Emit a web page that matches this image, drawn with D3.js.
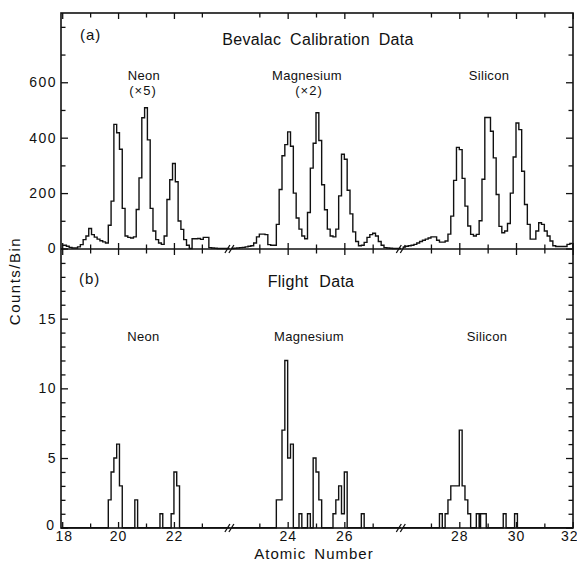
<!DOCTYPE html>
<html><head><meta charset="utf-8">
<script src="https://cdn.jsdelivr.net/npm/d3@7"></script>
<style>
body{margin:0;background:#fff}
svg{display:block}
text{font-family:"Liberation Sans",Arial,sans-serif;fill:#111}
</style></head>
<body><svg id="c" width="577" height="564"></svg>
<script>
// ---------- DATA ----------
// Panel (a) Bevalac calibration: counts per 0.1-charge bin
const binWidth = 0.1;
const calibBinStarts = [17.95, 22.0, 26.0]; // first bin edge of Ne, Mg, Si spectra
const calibNe = [12,12,8,4,2,2,6,14,32,45, 72,50,41,34,28,24,20,84,171,448,
                 418,358,145,45,40,38,42,141,255,472, 508,392,145,63,32,20,15,45,177,248,
                 307,241,99,69,32,12,0,35,35,36, 33,40,40,3,2,1,0,0,0,0];
const calibMg = [0,1,2,3,4,6,8,10,20,42, 52,52,50,14,12,12,87,213,335,375,
                 421,369,200,110,70,45,35,130,290,380, 490,390,230,140,70,45,42,70,190,340,
                 322,210,125,60,25,10,12,22,40,50, 55,45,25,12,3,2,1,0,0,0];
const calibSi = [5,8,10,12,15,20,25,30,34,38, 42,42,30,23,23,27,52,117,246,365,
                 357,253,153,81,51,45,51,100,250,473, 473,423,327,195,80,57,63,90,200,330,
                 453,429,279,159,87,34,34,63,93,87, 63,45,27,10,7,7,7,7,15,18];
// Panel (b) flight data: bin start and counts
const flightNeBins   = [19.65,19.75,19.85,19.95,20.05,20.6,21.5,21.9,22.0,22.1];
const flightNeCounts = [2,4,5,6,3,2,1,1,4,3];
const flightMgBins   = [23.6,23.7,23.8,23.9,24.0,24.1,24.4,24.7,24.9,25.0,25.1,25.6,25.7,25.8,25.9,26.0,26.6];
const flightMgCounts = [2,2,7,12,5,6,1,1,5,4,2,1,2,3,1,4,1];
const flightSiBins   = [27.3,27.5,27.6,27.7,27.8,27.9,28.0,28.1,28.2,28.3,28.6,28.75,28.85,29.55,29.95];
const flightSiCounts = [1,1,2,3,3,3,7,3,2,1,1,1,1,1,1];
// axis segments (broken x axis) and tick labels
const segmentDomains = [[18,24],[22,28],[26,32]];
const xLabelValues = [18,20,22,24,26,28,30,32];
const yTicksA = [0,200,400,600];
const yMinorA = [100,300,500,700,800];
const yTicksB = [0,5,10,15];
const yMinorB = [1,2,3,4,6,7,8,9,11,12,13,14,16,17,18,19];
const elementLabels = ["Neon","Magnesium","Silicon"];
const calibFactors = ["(×5)","(×2)",""];

// ---------- LAYOUT ----------
const ink = "#111";
const L = 61, R = 573, T = 13, M = 249, B = 528;
const segRanges = [[62.2,229.8],[231,401],[402.6,572.7]];
const xs = segmentDomains.map((d,i) => d3.scaleLinear().domain(d).range(segRanges[i]));
const yA = d3.scaleLinear().domain([0,850]).range([248.5, T]);
const yB = d3.scaleLinear().domain([0,20]).range([527.7, M]);

const svg = d3.select("#c");
const defs = svg.append("defs");

function stepPoints(starts, counts, w, d0, d1) {
  const pts = [[d0, 0]]; let cur = d0, level = 0;
  starts.forEach((s, i) => {
    if (s > cur + 1e-6) { pts.push([cur, 0]); level = 0; }
    pts.push([s, level]); pts.push([s, counts[i]]); pts.push([s + w, counts[i]]);
    cur = s + w; level = counts[i];
  });
  pts.push([cur, 0]); pts.push([d1, 0]);
  return pts;
}

function drawHist(pts, x, y, id, y0, y1) {
  const r = x.range();
  defs.append("clipPath").attr("id", id).append("rect")
    .attr("x", r[0]).attr("y", y0).attr("width", r[1]-r[0]).attr("height", y1-y0);
  const line = d3.line().x(d => x(d[0])).y(d => y(d[1]));
  svg.append("path").attr("d", line(pts)).attr("clip-path", `url(#${id})`)
    .attr("fill","none").attr("stroke", ink).attr("stroke-width", 1.4).attr("stroke-linejoin","miter");
}

// panel a histograms
[calibNe, calibMg, calibSi].forEach((vals, i) => {
  const starts = vals.map((_, k) => +(calibBinStarts[i] + k*binWidth).toFixed(2));
  const d = segmentDomains[i];
  drawHist(stepPoints(starts, vals, binWidth, Math.min(d[0], starts[0]), d[1]), xs[i], yA, "ca"+i, T, 250);
});
// panel b histograms
[[flightNeBins, flightNeCounts],[flightMgBins, flightMgCounts],[flightSiBins, flightSiCounts]].forEach((p, i) => {
  const d = segmentDomains[i];
  drawHist(stepPoints(p[0], p[1], binWidth, d[0], d[1]), xs[i], yB, "cb"+i, M, 529);
});

// frame
svg.append("rect").attr("x", L).attr("y", T).attr("width", R-L).attr("height", B-T)
  .attr("fill","none").attr("stroke", ink).attr("stroke-width", 1.6);
svg.append("line").attr("x1", L).attr("x2", R).attr("y1", M).attr("y2", M)
  .attr("stroke", ink).attr("stroke-width", 1.6);

function cleanAxis(g) {
  g.attr("font-family", null).attr("font-size", null);
  g.select(".domain").remove();
  g.selectAll("line").attr("stroke", ink).attr("stroke-width", 1.3);
}

// x ticks
xs.forEach((x, si) => {
  const d = segmentDomains[si];
  const vals = d3.range(Math.ceil(d[0]), Math.floor(d[1]) + 1)
    .filter(v => !(si > 0 && v === d[0]) && !(si < 2 && v === d[1]));
  const even = vals.filter(v => v % 2 === 0), odd = vals.filter(v => v % 2 !== 0);
  [[even, 6], [odd, 4.5]].forEach(([tv, sz]) => {
    [[T, "down"], [M, "up"], [M, "down"], [B, "up"]].forEach(([yy, dir]) => {
      const ax = (dir === "up" ? d3.axisBottom(x) : d3.axisTop(x)).tickValues(tv).tickSize(-sz).tickFormat("");
      svg.append("g").attr("transform", `translate(0,${yy})`).call(ax).call(cleanAxis);
    });
  });
  // labels
  const lab = xLabelValues.filter(v => vals.includes(v) || (si === 0 && v === 18) || (si === 2 && v === 32));
  const axL = d3.axisBottom(x).tickValues(lab).tickSize(0).tickPadding(3.5).tickFormat(d3.format("d"));
  svg.append("g").attr("transform", `translate(0,${B})`).call(axL).call(cleanAxis)
    .selectAll("text").style("font-size","14px").style("letter-spacing","1px").attr("fill", ink)
    .attr("dx", v => v === 32 ? -3.5 : v === 18 ? 1.5 : 0);
});

// y axes
function yAxes(y, major, minor) {
  [[major, 7], [minor, 4.5]].forEach(([tv, sz]) => {
    svg.append("g").attr("transform", `translate(${L},0)`)
      .call(d3.axisLeft(y).tickValues(tv).tickSize(-sz).tickFormat("")).call(cleanAxis);
    svg.append("g").attr("transform", `translate(${R},0)`)
      .call(d3.axisRight(y).tickValues(tv).tickSize(-sz).tickFormat("")).call(cleanAxis);
  });
  svg.append("g").attr("transform", `translate(${L},0)`)
    .call(d3.axisLeft(y).tickValues(major).tickSize(0).tickPadding(4).tickFormat(d3.format("d")))
    .call(cleanAxis)
    .selectAll("text").style("font-size","14px").style("letter-spacing","1.5px").attr("fill", ink)
    .attr("dy", v => v === 0 && y === yB ? "0.12em" : "0.32em")
    .attr("dx", v => v === 0 && y === yB ? -1.5 : 0);
}
yAxes(yA, yTicksA, yMinorA);
yAxes(yB, yTicksB, yMinorB);

// break marks
xs.slice(0, 2).forEach((x, i) => {
  const xb = (x.range()[1] + xs[i+1].range()[0]) / 2 - 1;
  [M, B].forEach(yy => {
    [-2, 2].forEach(dx => {
      svg.append("line").attr("x1", xb + dx - 2.5).attr("y1", yy + 4).attr("x2", xb + dx + 2.5).attr("y2", yy - 4)
        .attr("stroke", ink).attr("stroke-width", 1.3);
    });
  });
});

// texts
function txt(s, x, y, size, anchor, extra) {
  const t = svg.append("text").attr("x", x).attr("y", y).attr("text-anchor", anchor || "middle")
    .style("font-size", size + "px").text(s);
  if (extra) Object.entries(extra).forEach(([k, v]) => t.style(k, v));
  return t;
}
txt("(a)", 80, 40, 15, "start", {"letter-spacing":"1px"});
txt("Bevalac Calibration Data", 318, 45, 16, "middle", {"word-spacing":"4px","letter-spacing":"0.3px"});
txt("(b)", 79, 284, 15, "start", {"letter-spacing":"1px"});
txt("Flight Data", 311, 287, 16, "middle", {"word-spacing":"6px","letter-spacing":"0.3px"});
const labelX = [[144,307,489],[143.5,309,487]];
elementLabels.forEach((s, i) => {
  txt(s, labelX[0][i], 80, 13, "middle", {"letter-spacing":"0.3px"});
  if (calibFactors[i]) txt(calibFactors[i], labelX[0][i] + (i===1?2:-1), 95, 13, "middle", {"letter-spacing":"1px"});
  txt(s, labelX[1][i], 341, 13, "middle", {"letter-spacing":"0.3px"});
});
txt("Atomic Number", 314, 558.5, 15, "middle", {"letter-spacing":"1px","word-spacing":"3px"});
svg.append("text").attr("transform", "translate(20,281) rotate(-90)").attr("text-anchor","middle")
  .style("font-size","15px").style("letter-spacing","1.5px").text("Counts/Bin");
</script></body></html>
